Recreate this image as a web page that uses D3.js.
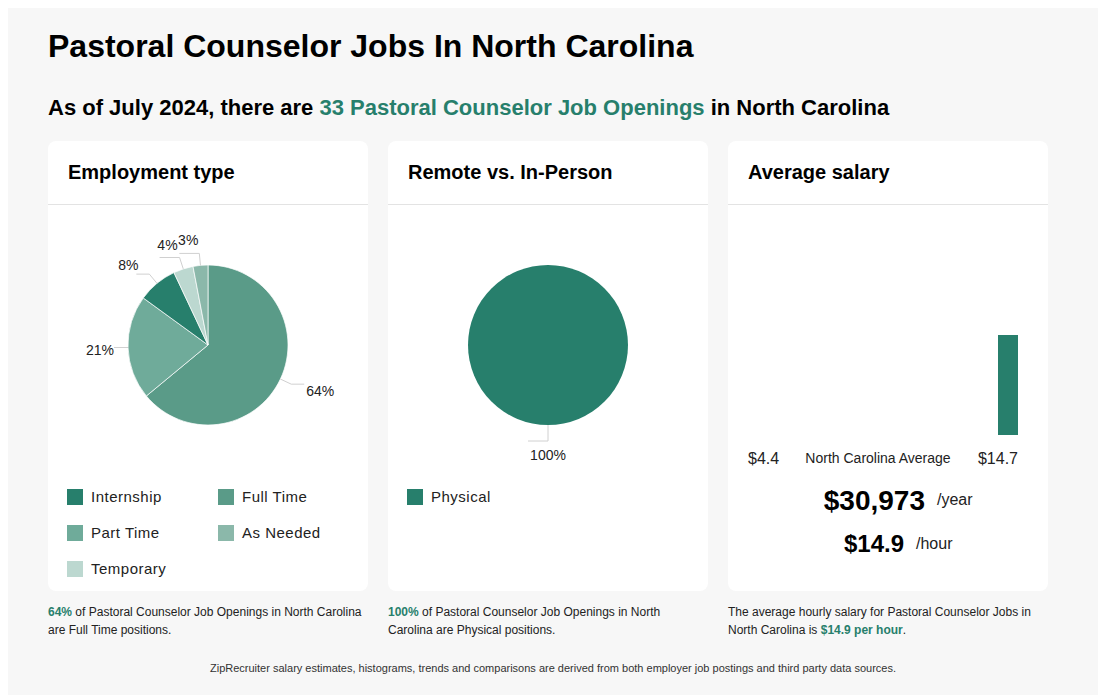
<!DOCTYPE html>
<html><head><meta charset="utf-8">
<script src="https://cdn.jsdelivr.net/npm/d3@7"></script>
<style>
body{margin:0;background:#fff;font-family:"Liberation Sans",Arial,sans-serif;}
svg text{font-family:"Liberation Sans",Arial,sans-serif;}
</style></head>
<body>
<svg id="chart" width="1110" height="695"></svg>
<script>
// ---- data ----
const employmentTypes = ["Full Time","Part Time","Internship","Temporary","As Needed"];
const employmentShares = [64,21,8,4,3];
const legendOrder = ["Internship","Full Time","Part Time","As Needed","Temporary"];
const remoteTypes = ["Physical"];
const remoteShares = [100];
const salaryBins = ["4.4","5.3","6.3","7.2","8.2","9.1","10.0","11.0","11.9","12.8","13.8"];
const salaryCounts = [0,0,0,0,0,0,0,0,0,0,1];
const salaryMinLabel = "$4.4", salaryMaxLabel = "$14.7";
const annualSalary = "$30,973", hourlySalary = "$14.9";
const colors = {"Internship":"#277f6c","Full Time":"#5a9b88","Part Time":"#6fab9a","As Needed":"#8bb8aa","Temporary":"#bcd8d0","Physical":"#277f6c"};
const green = "#277f6c";

const svg = d3.select("#chart");
svg.append("rect").attr("x",8).attr("y",8).attr("width",1090).attr("height",687).attr("fill","#f7f7f7");

svg.append("text").attr("x",48).attr("y",57).attr("font-size",32).attr("font-weight","bold").attr("fill","#000")
  .text("Pastoral Counselor Jobs In North Carolina");
const sub = svg.append("text").attr("x",48).attr("y",115).attr("font-size",22).attr("font-weight","bold").attr("fill","#000");
sub.append("tspan").text("As of July 2024, there are ");
sub.append("tspan").attr("fill",green).text("33 Pastoral Counselor Job Openings");
sub.append("tspan").text(" in North Carolina");

const cards = [{x:48,title:"Employment type"},{x:388,title:"Remote vs. In-Person"},{x:728,title:"Average salary"}];
cards.forEach(c=>{
  svg.append("rect").attr("x",c.x).attr("y",141).attr("width",320).attr("height",450).attr("rx",8).attr("fill","#fff");
  svg.append("line").attr("x1",c.x).attr("x2",c.x+320).attr("y1",204.5).attr("y2",204.5).attr("stroke","#e3e3e3");
  svg.append("text").attr("x",c.x+20).attr("y",179).attr("font-size",20).attr("font-weight","bold").attr("fill","#000").text(c.title);
});

// ---- pie helper ----
function drawPie(cx, cy, names, values, r){
  const pie = d3.pie().sort(null).value(d=>d.v);
  const data = pie(names.map((n,i)=>({n,v:values[i]})));
  const arc = d3.arc().innerRadius(0).outerRadius(r);
  const g = svg.append("g").attr("transform",`translate(${cx},${cy})`);
  g.selectAll("path").data(data).join("path").attr("d",arc)
    .attr("fill",d=>colors[d.data.n]).attr("stroke","#fff").attr("stroke-width",data.length>1?0.7:0);
  data.forEach(d=>{
    const a = (d.startAngle+d.endAngle)/2;
    const s = Math.sin(a), c = -Math.cos(a); // c<0 above
    const p0=[s*r,c*r];
    const single = data.length===1;
    const sideways = Math.abs(c)<0.3;
    const re = r + (single?16:(sideways?0:12));
    const p1=[s*re,c*re];
    const sideRight = s>0.01;
    const len = single?20:(sideways?14:(c<-0.9?20:13));
    const p2=[p1[0]+(sideRight?len:-len),p1[1]];
    g.append("polyline").attr("points",[p0,p1,p2].map(p=>p.join(",")).join(" "))
      .attr("fill","none").attr("stroke","#d0d0d0").attr("stroke-width",1);
    const label = Math.round(d.data.v)+"%";
    let tx, ty, anchor;
    if(single){ tx=p1[0]; ty=p1[1]+19; anchor="middle"; }
    else if(sideRight){ tx=p2[0]+2; ty=p2[1]+12; anchor="start"; }
    else if(sideways){ tx=p2[0]; ty=p2[1]+7; anchor="end"; }
    else {
      anchor="end";
      if(c<-0.9){ tx = p2[0]+(c<-0.99?19:18); ty = p2[1]-8; }
      else { tx = p2[0]+2; ty = p2[1]-4; }
    }
    g.append("text").attr("x",tx).attr("y",ty).attr("text-anchor",anchor).attr("font-size",14).attr("fill","#222").text(label);
  });
}
drawPie(208,345,employmentTypes,employmentShares,80);
drawPie(548,345,remoteTypes,remoteShares,80);

// ---- legends ----
function legend(x0, names){
  names.forEach((n,i)=>{
    const col=i%2,row=Math.floor(i/2);
    const x=x0+col*151,y=489+row*36;
    svg.append("rect").attr("x",x).attr("y",y).attr("width",16).attr("height",16).attr("fill",colors[n]);
    svg.append("text").attr("x",x+24).attr("y",y+13).attr("font-size",15).attr("letter-spacing","0.5px").attr("fill","#222").text(n);
  });
}
legend(67,legendOrder);
legend(407,remoteTypes);

// ---- salary histogram ----
const xs = d3.scaleBand().domain(salaryBins).range([748,1018]).paddingInner(0.2).paddingOuter(0);
const ys = d3.scaleLinear().domain([0,2]).range([435,235]);
svg.append("g").selectAll("rect").data(salaryBins.map((b,i)=>({b,c:salaryCounts[i]}))).join("rect")
  .attr("x",d=>xs(d.b)).attr("width",xs.bandwidth()).attr("y",d=>ys(d.c)).attr("height",d=>ys(0)-ys(d.c)).attr("fill",green);
svg.append("text").attr("x",748).attr("y",464).attr("font-size",16).attr("fill","#222").text(salaryMinLabel);
svg.append("text").attr("x",1018).attr("y",464).attr("font-size",16).attr("text-anchor","end").attr("fill","#222").text(salaryMaxLabel);
svg.append("text").attr("x",878).attr("y",463).attr("font-size",14).attr("text-anchor","middle").attr("fill","#222").text("North Carolina Average");
svg.append("text").attr("x",925).attr("y",510).attr("font-size",28).attr("font-weight","bold").attr("text-anchor","end").attr("fill","#000").text(annualSalary);
svg.append("text").attr("x",937).attr("y",505).attr("font-size",16).attr("fill","#222").text("/year");
svg.append("text").attr("x",904).attr("y",552).attr("font-size",24).attr("font-weight","bold").attr("text-anchor","end").attr("fill","#000").text(hourlySalary);
svg.append("text").attr("x",916).attr("y",549).attr("font-size",16).attr("fill","#222").text("/hour");

// ---- footnotes ----
function note(x,y,parts){
  const t=svg.append("text").attr("x",x).attr("y",y).attr("font-size",12).attr("fill","#222");
  parts.forEach(p=>{const s=t.append("tspan").text(p[0]); if(p[1]) s.attr("fill",green).attr("font-weight","bold");});
}
note(48,616,[["64%",1],[" of Pastoral Counselor Job Openings in North Carolina"]]);
note(48,634,[["are Full Time positions."]]);
note(388,616,[["100%",1],[" of Pastoral Counselor Job Openings in North"]]);
note(388,634,[["Carolina are Physical positions."]]);
note(728,616,[["The average hourly salary for Pastoral Counselor Jobs in"]]);
note(728,634,[["North Carolina is "],["$14.9 per hour",1],["."]]);
svg.append("text").attr("x",553).attr("y",672).attr("font-size",11).attr("text-anchor","middle").attr("fill","#333")
  .text("ZipRecruiter salary estimates, histograms, trends and comparisons are derived from both employer job postings and third party data sources.");
</script>
</body></html>
